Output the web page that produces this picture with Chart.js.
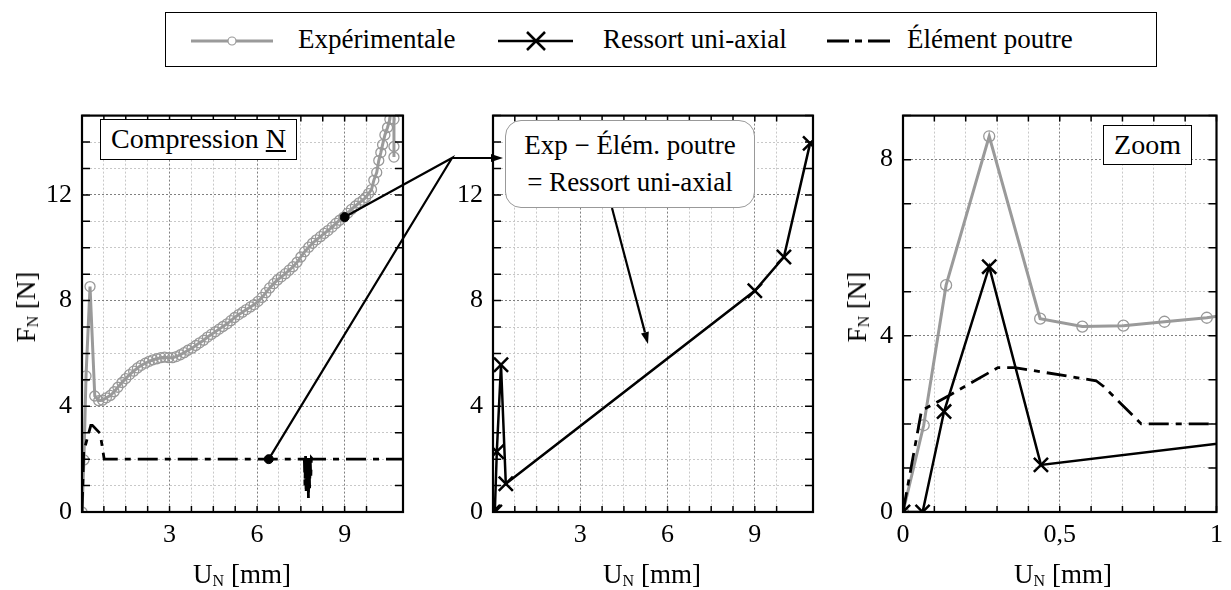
<!DOCTYPE html>
<html><head><meta charset="utf-8">
<script src="https://cdn.jsdelivr.net/npm/chart.js@4.4.0/dist/chart.umd.min.js"></script>
<style>
body{margin:0;background:#fff;width:1231px;height:590px;position:relative;overflow:hidden;font-family:'Liberation Serif','Times New Roman',serif;color:#000;}
.wrap{position:absolute;top:90px;height:470px;}
.lbl{position:absolute;white-space:nowrap;font-size:27px;line-height:30px;}
.lbl sub{font-size:16px;vertical-align:-3px;line-height:0;}
.ytitle{transform:translate(-50%,-50%) rotate(-90deg);}
.xtitle{transform:translate(-50%,-50%);}
.box{position:absolute;background:#fff;box-sizing:border-box;text-align:center;white-space:nowrap;}
#legend{position:absolute;left:165px;top:12px;width:992px;height:55px;border:1.5px solid #000;box-sizing:border-box;background:#fff;}
#legend .lt{position:absolute;top:0;line-height:52px;font-size:27px;white-space:nowrap;}
#ov{position:absolute;left:0;top:0;z-index:5;pointer-events:none;}
.box{z-index:6;}
</style></head><body>

<div id="legend">
  <svg width="992" height="55" style="position:absolute;left:0;top:0">
    <line x1="25" y1="28" x2="107" y2="28" stroke="#9a9a9a" stroke-width="2.8"/>
    <circle cx="66" cy="28" r="4" fill="#fff" stroke="#9a9a9a" stroke-width="1.2"/>
    <line x1="332" y1="28" x2="407" y2="28" stroke="#000" stroke-width="2.5"/>
    <line x1="361" y1="19" x2="379" y2="37" stroke="#000" stroke-width="2.5"/>
    <line x1="361" y1="37" x2="379" y2="19" stroke="#000" stroke-width="2.5"/>
    <line x1="661" y1="28" x2="725" y2="28" stroke="#000" stroke-width="2.8" stroke-dasharray="22 6 7 6"/>
  </svg>
  <span class="lt" style="left:132px">Expérimentale</span>
  <span class="lt" style="left:437px">Ressort uni-axial</span>
  <span class="lt" style="left:741px">Élément poutre</span>
</div>

<div class="wrap" style="left:0;width:420px"><canvas id="c1" width="420" height="470"></canvas></div>
<div class="wrap" style="left:420px;width:420px"><canvas id="c2" width="420" height="470"></canvas></div>
<div class="wrap" style="left:840px;width:391px"><canvas id="c3" width="391" height="470"></canvas></div>
<canvas id="ov" width="1231" height="590"></canvas>

<div class="lbl ytitle" style="left:26px;top:307px">F<sub>N</sub> [N]</div>
<div class="lbl ytitle" style="left:857px;top:307px">F<sub>N</sub> [N]</div>
<div class="lbl xtitle" style="left:242px;top:574px">U<sub>N</sub> [mm]</div>
<div class="lbl xtitle" style="left:652px;top:574px">U<sub>N</sub> [mm]</div>
<div class="lbl xtitle" style="left:1063px;top:574px">U<sub>N</sub> [mm]</div>

<div class="box" style="left:100px;top:119px;width:197px;height:41px;border:1.5px solid #000;font-size:28px;line-height:38px;">Compression <u>N</u></div>
<div class="box" style="left:1103px;top:125px;width:89px;height:40px;border:1.5px solid #000;font-size:28px;line-height:37px;">Zoom</div>
<div class="box" style="left:505px;top:120px;width:250px;height:88px;border:1.5px solid #999;border-radius:16px;font-size:27px;line-height:37px;padding-top:6px;">Exp − Élém. poutre<br>= Ressort uni-axial</div>

<script>
// ---------- data ----------
const expX = [0, 0.066, 0.1375, 0.275, 0.4375, 0.572, 0.703, 0.834, 0.969,
  1.10, 1.23, 1.37, 1.50, 1.63, 1.77, 1.90, 2.03, 2.17, 2.30,
  2.43, 2.57, 2.70, 2.83, 2.97, 3.10, 3.23, 3.37, 3.50, 3.63,
  3.77, 3.90, 4.03, 4.17, 4.30, 4.43, 4.57, 4.70, 4.83, 4.97,
  5.10, 5.23, 5.37, 5.50, 5.63, 5.77, 5.90, 6.03, 6.17, 6.30,
  6.43, 6.57, 6.70, 6.83, 6.97, 7.10, 7.23, 7.37, 7.50, 7.63,
  7.77, 7.90, 8.03, 8.17, 8.30, 8.43, 8.57, 8.70, 8.83, 8.97,
  9.10, 9.23, 9.37, 9.50, 9.63,
  9.72, 9.82, 9.92, 10.0, 10.1, 10.17, 10.24, 10.3, 10.38, 10.47, 10.55, 10.62, 10.69, 10.69, 10.69, 10.69];
const expY = [0, 1.97, 5.15, 8.53, 4.39, 4.21, 4.23, 4.32, 4.41,
  4.55, 4.72, 4.90, 5.05, 5.20, 5.33, 5.45, 5.55, 5.63, 5.70,
  5.76, 5.80, 5.84, 5.86, 5.84, 5.84, 5.88, 5.95, 6.03, 6.12,
  6.20, 6.30, 6.40, 6.50, 6.62, 6.72, 6.82, 6.92, 7.02, 7.12,
  7.24, 7.36, 7.47, 7.56, 7.66, 7.76, 7.85, 7.97, 8.12, 8.30,
  8.48, 8.64, 8.78, 8.90, 9.02, 9.15, 9.28, 9.45, 9.65, 9.85,
  10.02, 10.17, 10.30, 10.42, 10.54, 10.65, 10.78, 10.92, 11.04, 11.16,
  11.30, 11.45, 11.58, 11.70, 11.80,
  11.90, 12.05, 12.20, 12.55, 12.85, 13.30, 13.60, 13.90, 14.27, 14.55, 14.86, 15.60, 15.30, 14.86, 13.83, 13.43];

const ressortX = [0, 0.0625, 0.131, 0.275, 0.44, 9.0, 10.0, 10.9];
const ressortY = [0, 0, 2.28, 5.57, 1.07, 8.37, 9.65, 13.95];

const poutreX = [0, 0.059, 0.153, 0.303, 0.356, 0.616, 0.64, 0.76,
  7.62, 7.64, 7.66, 7.68, 7.70, 7.72, 7.74, 7.76, 7.78, 7.80, 7.82, 7.84, 7.86, 7.90, 11.5];
const poutreY = [0, 2.30, 2.67, 3.28, 3.28, 2.98, 2.85, 2.0,
  2.0, 1.0, 2.2, 0.7, 2.1, 1.2, 1.9, 0.5, 2.15, 0.9, 2.0, 1.3, 2.05, 2.0, 2.0];

const dotX = [9.0, 6.4];
const dotY = [11.16, 2.0];

// tick settings
const mainXTicks = {max: 11, step: 0.75, major: 3};
const mainYTicks = {max: 15, step: 1, major: 4};
const zoomXTicks = {max: 1, step: 0.1, major: 0.5};
const zoomYTicks = {max: 9, step: 1, major: 4};

// ---------- helpers ----------
const FONT = "'Liberation Serif','Times New Roman',serif";
const pts = (xs, ys) => xs.map((x, i) => ({x: x, y: ys[i]}));
const near = (v, m) => Math.abs(v / m - Math.round(v / m)) < 1e-6;

const expDS = (r) => ({data: pts(expX, expY), showLine: true, borderColor: '#9a9a9a', borderWidth: 3,
  pointRadius: r, pointBorderColor: '#999999', pointBackgroundColor: 'rgba(255,255,255,0)', pointBorderWidth: 1.3, clip: 0, order: 3});
const ressortDS = () => ({data: pts(ressortX, ressortY), showLine: true, borderColor: '#000', borderWidth: 2.5,
  pointStyle: 'crossRot', pointRadius: 10, pointBorderColor: '#000', pointBorderWidth: 2.5, clip: 0, order: 1});
const poutreDS = () => ({data: pts(poutreX, poutreY), showLine: true, borderColor: '#000', borderWidth: 2.8,
  borderDash: [20, 7, 6, 7], pointRadius: 0, clip: 0, order: 2});
const dotDS = () => ({data: pts(dotX, dotY), showLine: false, pointRadius: 4.5, pointBackgroundColor: '#000', pointBorderColor: '#000', clip: 0, order: 0});

const framePlugin = {
  id: 'frame',
  afterDraw(chart) {
    const {ctx, chartArea: a, scales: {x, y}} = chart;
    ctx.save();
    ctx.strokeStyle = '#000';
    ctx.lineWidth = 1.5;
    ctx.beginPath();
    x.ticks.forEach(t => {
      const p = x.getPixelForValue(t.value);
      ctx.moveTo(p, a.bottom); ctx.lineTo(p, a.bottom - 6);
      ctx.moveTo(p, a.top); ctx.lineTo(p, a.top + 6);
    });
    y.ticks.forEach(t => {
      const p = y.getPixelForValue(t.value);
      ctx.moveTo(a.left, p); ctx.lineTo(a.left + 8, p);
      ctx.moveTo(a.right, p); ctx.lineTo(a.right - 8, p);
    });
    ctx.stroke();
    ctx.lineWidth = 2.2;
    ctx.strokeRect(a.left, a.top, a.right - a.left, a.bottom - a.top);
    ctx.restore();
  }
};

function scales(xt, yt, yW, xFmt, xZero) {
  const gridColor = m => c => (c.tick && near(c.tick.value, m)) ? '#808080' : '#c8c8c8';
  return {
    x: {type: 'linear', min: 0, max: xt.max,
      afterFit: s => { s.height = 48; },
      ticks: {stepSize: xt.step, autoSkip: false, maxRotation: 0, minRotation: 0, padding: 8, color: '#000',
        font: {family: FONT, size: 26},
        callback: v => (near(v, xt.major) && (v !== 0 || xZero)) ? xFmt(v) : ''},
      grid: {color: gridColor(xt.major), lineWidth: 1, drawTicks: false},
      border: {display: false, dash: [2, 2]}},
    y: {type: 'linear', min: 0, max: yt.max,
      afterFit: s => { s.width = yW; },
      ticks: {stepSize: yt.step, autoSkip: false, padding: 10, color: '#000',
        font: {family: FONT, size: 26},
        callback: v => near(v, yt.major) ? String(v) : ''},
      grid: {color: gridColor(yt.major), lineWidth: 1, drawTicks: false},
      border: {display: false, dash: [2, 2]}}
  };
}

function make(id, datasets, xt, yt, yW, padRight, xFmt, xZero) {
  return new Chart(document.getElementById(id), {
    type: 'scatter',
    data: {datasets: datasets},
    options: {
      responsive: false, animation: false, events: [],
      layout: {padding: {top: 13, right: padRight, bottom: 0, left: 0}},
      plugins: {legend: {display: false}, tooltip: {enabled: false}},
      scales: scales(xt, yt, yW, xFmt, xZero)
    },
    plugins: [framePlugin]
  });
}

const fmtInt = v => String(v);
const fmtDec = v => String(Math.round(v * 10) / 10).replace('.', ',');

const c1 = make('c1', [expDS(5), poutreDS(), dotDS()], mainXTicks, mainYTicks, 82, 17, fmtInt, false);
const c2 = make('c2', [ressortDS()], mainXTicks, mainYTicks, 73, 27, fmtInt, false);
const c3 = make('c3', [expDS(5.5), ressortDS(), poutreDS()], zoomXTicks, zoomYTicks, 63, 8, fmtDec, true);

// ---------- annotation arrows (overlay) ----------
const ov = document.getElementById('ov').getContext('2d');
const pageOf = (ch, left, x, y) => [left + ch.scales.x.getPixelForValue(x), 90 + ch.scales.y.getPixelForValue(y)];
const A = pageOf(c1, 0, dotX[0], dotY[0]);
const B = pageOf(c1, 0, dotX[1], dotY[1]);
const J = [452, 158];
function arrow(from, to) {
  const ang = Math.atan2(to[1] - from[1], to[0] - from[0]);
  const L = 12, W = 4;
  const bx = to[0] - L * Math.cos(ang), by = to[1] - L * Math.sin(ang);
  ov.beginPath(); ov.moveTo(from[0], from[1]); ov.lineTo(bx, by); ov.stroke();
  ov.beginPath();
  ov.moveTo(to[0], to[1]);
  ov.lineTo(bx + W * Math.sin(ang), by - W * Math.cos(ang));
  ov.lineTo(bx - W * Math.sin(ang), by + W * Math.cos(ang));
  ov.closePath(); ov.fill();
}
ov.strokeStyle = '#000'; ov.fillStyle = '#000'; ov.lineWidth = 2.2;
ov.beginPath(); ov.moveTo(A[0], A[1]); ov.lineTo(J[0], J[1]); ov.lineTo(B[0], B[1]); ov.stroke();
arrow(J, [503, 158]);
arrow([612, 208], [648, 344]);
</script>
</body></html>
